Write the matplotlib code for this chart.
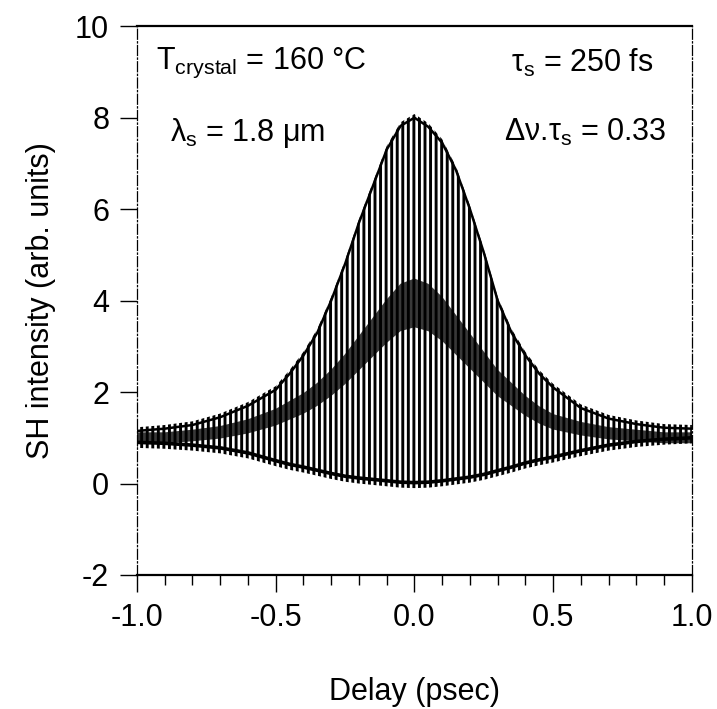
import numpy as np
import matplotlib
matplotlib.use("Agg")
import matplotlib.pyplot as plt
from matplotlib.ticker import MultipleLocator

# -- values (delay in psec)
delay = [-1.0, -0.9, -0.8, -0.7, -0.6, -0.5, -0.45, -0.4, -0.35, -0.3,
         -0.25, -0.2, -0.15, -0.1, -0.05, 0.0, 0.05, 0.1, 0.15, 0.2,
         0.25, 0.3, 0.35, 0.4, 0.45, 0.5, 0.6, 0.7, 0.8, 0.9, 1.0]
upper = [1.15, 1.2, 1.28, 1.45, 1.7, 2.05, 2.4, 2.8, 3.3, 4.0,
         4.8, 5.7, 6.5, 7.3, 7.82, 8.0, 7.8, 7.45, 6.85, 6.0,
         5.05, 4.0, 3.3, 2.8, 2.4, 2.1, 1.65, 1.42, 1.3, 1.22, 1.2]
lower = [0.9, 0.88, 0.84, 0.78, 0.67, 0.5, 0.42, 0.36, 0.29, 0.22,
         0.16, 0.12, 0.09, 0.06, 0.03, 0.02, 0.03, 0.06, 0.1, 0.14,
         0.2, 0.28, 0.36, 0.45, 0.52, 0.58, 0.72, 0.84, 0.92, 0.97, 1.0]
mean  = [1.0, 1.0, 1.05, 1.12, 1.25, 1.45, 1.6, 1.75, 1.95, 2.2,
         2.5, 2.85, 3.2, 3.55, 3.85, 3.95, 3.85, 3.6, 3.25, 2.9,
         2.55, 2.2, 1.95, 1.7, 1.5, 1.35, 1.2, 1.1, 1.05, 1.0, 1.0]

xticks = [-1.0, -0.5, 0.0, 0.5, 1.0]
yticks = [-2, 0, 2, 4, 6, 8, 10]

plt.rcParams["font.family"] = ["Liberation Sans", "DejaVu Sans"]
plt.rcParams["axes.unicode_minus"] = False
plt.rcParams["hatch.linewidth"] = 2.1
plt.rcParams["mathtext.fontset"] = "custom"
plt.rcParams["mathtext.rm"] = "Liberation Sans"
plt.rcParams["mathtext.it"] = "Liberation Sans"

d  = np.array(delay)
up = np.array(upper)
lo = np.array(lower)
mn = np.array(mean)

fig = plt.figure(figsize=(7.17, 7.09), dpi=100)
ax = fig.add_axes([0.191, 0.189, 0.774, 0.774])

# -- fringes as vertical hatching between the envelopes
ax.fill_between(d, lo - 0.12, up + 0.08, facecolor="none", edgecolor="k",
                hatch="|||", linewidth=0)
# -- dark band of overlapping fringes around the mean
half = 0.12 + 0.14 * (mn - 1.0)
ax.fill_between(d, mn - half, mn + half, facecolor="k", alpha=0.78,
                linewidth=0)
# -- envelopes
ax.plot(d, up, color="k", lw=1.8)
ax.plot(d, lo, color="k", lw=2.6)

ax.set_xlim(-1.0, 1.0)
ax.set_ylim(-2, 10)
ax.set_xticks(xticks)
ax.set_xticklabels(["%.1f" % v for v in xticks])
ax.set_yticks(yticks)
ax.xaxis.set_minor_locator(MultipleLocator(0.1))
ax.tick_params(axis="both", which="major", direction="out", length=12,
               width=1.0, labelsize=22, pad=8)
ax.tick_params(axis="x", which="minor", direction="out", length=7,
               width=1.0)
ax.set_xlabel("Delay (psec)", fontsize=22, labelpad=32)
ax.set_ylabel("SH intensity (arb. units)", fontsize=22, labelpad=14)

for side in ["left", "right"]:
    ax.spines[side].set_linewidth(0.9)
    ax.spines[side].set_linestyle((0, (8, 2, 1, 2)))
for side in ["top", "bottom"]:
    ax.spines[side].set_linewidth(1.6)

ax.text(0.035, 0.934, r"T$_{\mathrm{crystal}}$ = 160 °C",
        transform=ax.transAxes, fontsize=22, ha="left", va="center")
ax.text(0.06, 0.806, r"$\lambda_{\mathrm{s}}$ = 1.8 $\mu$m",
        transform=ax.transAxes, fontsize=22, ha="left", va="center")
ax.text(0.93, 0.934, r"$\tau_{\mathrm{s}}$ = 250 fs",
        transform=ax.transAxes, fontsize=22, ha="right", va="center")
ax.text(0.955, 0.806, r"$\Delta\nu$.$\tau_{\mathrm{s}}$ = 0.33",
        transform=ax.transAxes, fontsize=22, ha="right", va="center")

fig.savefig("out.png", dpi=100)
